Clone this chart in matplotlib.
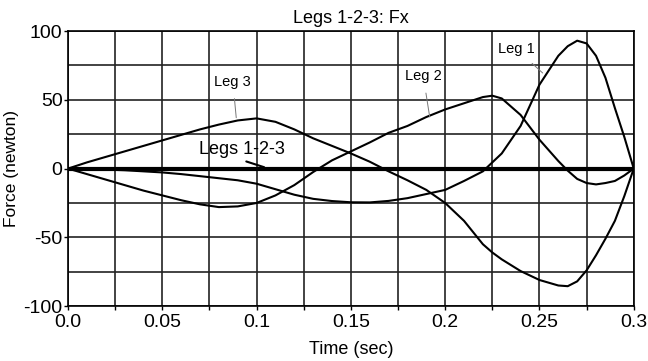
import matplotlib
matplotlib.use("Agg")
import matplotlib.pyplot as plt
import numpy as np

plt.rcParams['font.family'] = ['Liberation Sans', 'DejaVu Sans']

# time (sec)
t = [0.0, 0.01, 0.02, 0.03, 0.04, 0.05, 0.06, 0.07, 0.08, 0.09, 0.10,
     0.11, 0.12, 0.13, 0.14, 0.15, 0.16, 0.17, 0.18, 0.19, 0.20,
     0.21, 0.22, 0.225, 0.23, 0.24, 0.25, 0.26, 0.265, 0.27, 0.275,
     0.28, 0.285, 0.29, 0.295, 0.30]

# Fx per leg (newton)
leg1 = [0, -0.3, -0.7, -1.2, -2, -2.8, -4, -5.5, -7, -8.5, -11,
        -15, -19, -22, -23.6, -24.5, -24.6, -23.5, -21.5, -18.5, -15.5,
        -9, -2, 4.5, 11, 31, 61, 82, 89, 93, 91,
        82, 66, 44, 23, 0]
leg2 = [0, -4, -8, -12, -16, -19.5, -23, -26, -28, -27.5, -25,
        -19.5, -12, -2.5, 6, 12.5, 19, 26, 31, 37.5, 43,
        47.5, 52, 53, 51, 39, 21, 5.5, -1.5, -7.5, -10.5,
        -11.5, -10.5, -9, -5, 0]
leg3 = [0, 4.5, 8.5, 12.5, 16.5, 20.5, 24.5, 28.5, 32, 35, 36.5,
        34, 28.5, 22, 16.5, 11, 5, -2, -8.5, -15.5, -25,
        -38, -55, -61, -66, -74.5, -81, -85, -85.5, -82, -74,
        -63, -51, -38, -20, 0]
legs_sum = [0] * len(t)

fig = plt.figure(figsize=(6.48, 3.61), dpi=100)
ax = fig.add_axes([0.105, 0.152, 0.873, 0.762])

ax.plot(t, leg1, color='black', lw=1.5, zorder=3)
ax.plot(t, leg2, color='black', lw=1.5, zorder=3)
ax.plot(t, leg3, color='black', lw=1.5, zorder=3)
ax.plot(t, legs_sum, color='black', lw=3, zorder=4)

ax.set_xlim(0, 0.3)
ax.set_ylim(-100, 100)
ax.set_xticks([0, 0.05, 0.1, 0.15, 0.2, 0.25, 0.3])
ax.set_xticklabels(['0.0', '0.05', '0.1', '0.15', '0.2', '0.25', '0.3'])
ax.set_xticks(np.arange(0.025, 0.3, 0.05), minor=True)
ax.set_yticks([-100, -50, 0, 50, 100])
ax.set_yticklabels(['-100', '-50', '0', '50', '100'])
ax.set_yticks([-75, -25, 25, 75], minor=True)
ax.grid(True, which='both', color='#222222', lw=1.2, zorder=1)
ax.tick_params(which='both', direction='out', length=3, width=1, labelsize=14, pad=1)
ax.tick_params(axis='x', which='major', pad=3)
ax.tick_params(axis='y', which='minor', length=0)
for s in ax.spines.values():
    s.set_linewidth(1.2)

ax.set_title('Legs 1-2-3: Fx', fontsize=13, pad=6)
ax.set_xlabel('Time (sec)', fontsize=13, labelpad=7)
ax.set_ylabel('Force (newton)', fontsize=12.5, labelpad=3)

lbl = dict(fontsize=10.5, ha='center', va='center',
           arrowprops=dict(arrowstyle='-', color='#777777', lw=0.7,
                           shrinkA=5, shrinkB=0))
ax.annotate('Leg 3', xy=(0.0892, 37), xytext=(0.0874, 63), **lbl)
ax.annotate('Leg 2', xy=(0.1918, 37.5), xytext=(0.1884, 67), **lbl)
ax.annotate('Leg 1', xy=(0.2517, 69.5), xytext=(0.2377, 87), **lbl)
ax.annotate('Legs 1-2-3', xy=(0.104, 1), xytext=(0.0922, 14), fontsize=13,
            ha='center', va='center',
            arrowprops=dict(arrowstyle='-', color='black', lw=1.5,
                            shrinkA=2, shrinkB=0,
                            relpos=(0.42, 0.0)))

fig.savefig('out.png', dpi=100)
